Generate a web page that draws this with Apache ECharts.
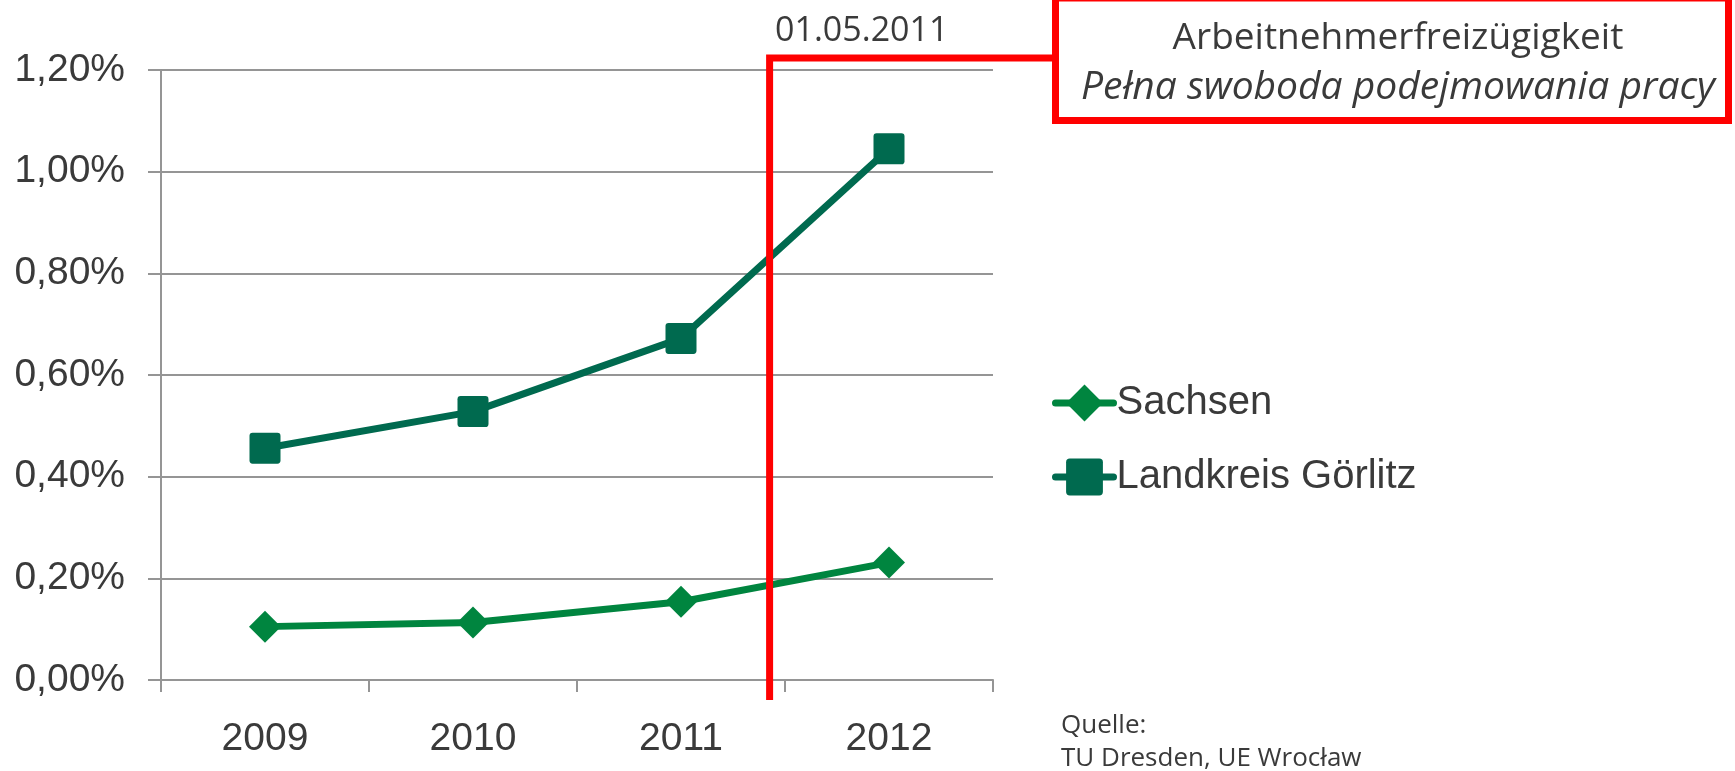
<!DOCTYPE html>
<html>
<head>
<meta charset="utf-8">
<script src="https://cdn.jsdelivr.net/npm/echarts@6/dist/echarts.min.js"></script>
<style>
  html, body { margin: 0; padding: 0; background: #fff; }
  #main { width: 1735px; height: 771px; }
</style>
</head>
<body>
<div id="main"></div>
<script>
// Daten (Anteil in %)
const years = ['2009', '2010', '2011', '2012'];
const sachsen = [0.105, 0.113, 0.154, 0.231];
const goerlitz = [0.456, 0.528, 0.672, 1.045];
const seriesNames = ['Sachsen', 'Landkreis Görlitz'];
const markerDate = '01.05.2011';
const markerTitle = 'Arbeitnehmerfreizügigkeit';
const markerSubtitle = 'Pełna swoboda podejmowania pracy';
const sourceLines = ['Quelle:', 'TU Dresden, UE Wrocław'];

const textColor = '#3a3a3a';
const axisGray = '#959595';
const red = '#ff0000';
const squareIcon = 'path://M3,0H27Q30,0 30,3V27Q30,30 27,30H3Q0,30 0,27V3Q0,0 3,0Z';

const chart = echarts.init(document.getElementById('main'));

chart.setOption({
    animation: false,
    backgroundColor: '#fff',
    grid: { left: 161, right: 742, top: 70, bottom: 91 },
    xAxis: {
        type: 'category',
        data: years,
        boundaryGap: true,
        axisLine: { show: true, lineStyle: { color: axisGray, width: 2 } },
        axisTick: { show: true, length: 12, lineStyle: { color: axisGray, width: 2 } },
        axisLabel: {
            color: textColor, fontFamily: 'Liberation Sans', fontSize: 39, margin: 40
        },
        splitLine: { show: false }
    },
    yAxis: {
        type: 'value',
        min: 0,
        max: 1.2,
        interval: 0.2,
        axisLine: { show: true, lineStyle: { color: axisGray, width: 2 } },
        axisTick: { show: true, length: 13, lineStyle: { color: axisGray, width: 2 } },
        axisLabel: {
            color: textColor, fontFamily: 'Liberation Sans', fontSize: 39, margin: 36,
            formatter: v => v.toFixed(2).replace('.', ',') + '%'
        },
        splitLine: { show: true, lineStyle: { color: axisGray, width: 2 } }
    },
    legend: {
        orient: 'vertical',
        left: 1047,
        top: 378,
        itemWidth: 58,
        itemHeight: 46,
        itemGap: 34,
        lineStyle: { width: 7, cap: 'round' },
        textStyle: { color: textColor, fontFamily: 'Liberation Sans', fontSize: 40, padding: [0, 0, 0, -2] },
        data: seriesNames
    },
    series: [
        {
            name: seriesNames[0],
            type: 'line',
            data: sachsen,
            symbol: 'diamond',
            symbolSize: 32,
            lineStyle: { color: '#00853f', width: 7, cap: 'round' },
            itemStyle: { color: '#00853f' },
            z: 3
        },
        {
            name: seriesNames[1],
            type: 'line',
            data: goerlitz,
            symbol: squareIcon,
            symbolSize: 31,
            lineStyle: { color: '#006a4f', width: 7, cap: 'round' },
            itemStyle: { color: '#006a4f' },
            z: 3
        }
    ]
});

// Markierung 01.05.2011 zwischen 2011 und 2012
const x2011 = chart.convertToPixel({ xAxisIndex: 0 }, '2011');
const x2012 = chart.convertToPixel({ xAxisIndex: 0 }, '2012');
const markX = x2011 + (x2012 - x2011) * 0.426;

chart.setOption({
    graphic: [
        {
            type: 'rect', z: 10,
            shape: { x: 1055.5, y: -2, width: 673, height: 122.5 },
            style: { fill: '#fff', stroke: red, lineWidth: 7 }
        },
        {
            type: 'polyline', z: 10,
            shape: { points: [[markX, 700], [markX, 58], [1052, 58]] },
            style: { stroke: red, lineWidth: 7, fill: null }
        },
        {
            type: 'text', z: 11,
            style: {
                text: markerTitle, x: 1398, y: 38, textAlign: 'center', textVerticalAlign: 'middle',
                fontFamily: 'Open Sans', fontSize: 37, fill: textColor
            }
        },
        {
            type: 'text', z: 11,
            style: {
                text: markerSubtitle, x: 1398, y: 88, textAlign: 'center', textVerticalAlign: 'middle',
                fontFamily: 'Open Sans', fontStyle: 'italic', fontSize: 39, fill: textColor
            }
        },
        {
            type: 'text', z: 11,
            style: {
                text: markerDate, x: 775, y: 31, textAlign: 'left', textVerticalAlign: 'middle',
                fontFamily: 'Open Sans', fontSize: 34, fill: textColor
            }
        },
        {
            type: 'text', z: 11,
            style: {
                text: sourceLines[0], x: 1061, y: 726, textAlign: 'left', textVerticalAlign: 'middle',
                fontFamily: 'Open Sans', fontSize: 26, fill: textColor
            }
        },
        {
            type: 'text', z: 11,
            style: {
                text: sourceLines[1], x: 1061, y: 759, textAlign: 'left', textVerticalAlign: 'middle',
                fontFamily: 'Open Sans', fontSize: 26, fill: textColor
            }
        }
    ]
});

window.addEventListener('resize', () => chart.resize());
</script>
</body>
</html>
